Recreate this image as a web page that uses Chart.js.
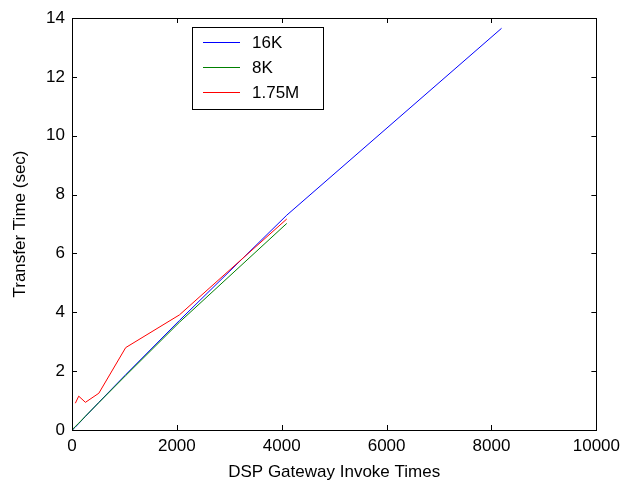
<!DOCTYPE html>
<html lang="en">
<head>
<meta charset="utf-8">
<title>Transfer Time</title>
<script src="https://cdn.jsdelivr.net/npm/chart.js@4.4.1/dist/chart.umd.min.js"></script>
<style>
  html, body { margin: 0; padding: 0; background: #fff; }
  #contenedor { width: 626px; height: 487px; position: relative; }
</style>
</head>
<body>
<div id="contenedor"><canvas id="grafico"></canvas></div>
<script>
// Valores
const invocaciones16K = [0, 16, 32, 64, 128, 256, 512, 1024, 2048, 4096, 8192];
const tiempos16K = [0, 0.02, 0.05, 0.1, 0.22, 0.46, 0.94, 1.88, 3.72, 7.3, 13.65];

const invocaciones8K = [0, 16, 32, 64, 128, 256, 512, 1024, 2048, 4096];
const tiempos8K = [0, 0.03, 0.06, 0.12, 0.23, 0.47, 0.93, 1.85, 3.66, 7.02];

const invocaciones175M = [64, 128, 256, 512, 1024, 2048, 4096];
const tiempos175M = [0.91, 1.15, 0.94, 1.25, 2.8, 3.91, 7.17];

const ticksX = [0, 2000, 4000, 6000, 8000, 10000];
const ticksY = [0, 2, 4, 6, 8, 10, 12, 14];

const FUENTE = "'Liberation Sans', Arial, sans-serif";

function aPuntos(xs, ys) {
  return xs.map((x, i) => ({ x, y: ys[i] }));
}

// Caja, marcas hacia adentro y leyenda al estilo MATLAB
const pluginMarco = {
  id: "marco",
  afterDatasetsDraw(chart) {
    const { ctx, chartArea: area, scales } = chart;
    const largo = 5;
    ctx.save();
    ctx.strokeStyle = "#000";
    ctx.lineWidth = 1;
    ctx.beginPath();
    scales.x.ticks.forEach((t) => {
      const px = Math.round(scales.x.getPixelForValue(t.value)) + 0.5;
      ctx.moveTo(px, area.bottom); ctx.lineTo(px, area.bottom - largo);
      ctx.moveTo(px, area.top); ctx.lineTo(px, area.top + largo);
    });
    scales.y.ticks.forEach((t) => {
      const py = Math.round(scales.y.getPixelForValue(t.value)) + 0.5;
      ctx.moveTo(area.left, py); ctx.lineTo(area.left + largo, py);
      ctx.moveTo(area.right, py); ctx.lineTo(area.right - largo, py);
    });
    ctx.stroke();
    ctx.strokeRect(Math.round(area.left) + 0.5, Math.round(area.top) + 0.5,
      Math.round(area.right - area.left), Math.round(area.bottom - area.top));

    // leyenda
    const caja = { x: 192.5, y: 27.5, w: 131, h: 82 };
    ctx.fillStyle = "#fff";
    ctx.fillRect(caja.x, caja.y, caja.w, caja.h);
    ctx.strokeRect(caja.x, caja.y, caja.w, caja.h);
    ctx.font = `17px ${FUENTE}`;
    ctx.textBaseline = "middle";
    ctx.textAlign = "left";
    chart.data.datasets.forEach((ds, i) => {
      const y = 42.5 + i * 25;
      ctx.strokeStyle = ds.borderColor;
      ctx.beginPath();
      ctx.moveTo(203, y); ctx.lineTo(240, y);
      ctx.stroke();
      ctx.fillStyle = "#000";
      ctx.fillText(ds.label, 252, y + 1);
    });
    ctx.restore();
  },
};

const serie = (label, color, datos, orden) => ({
  label,
  data: datos,
  borderColor: color,
  backgroundColor: color,
  borderWidth: 1,
  pointRadius: 0,
  tension: 0,
  order: orden,
});

new Chart(document.querySelector("#grafico"), {
  type: "line",
  data: {
    datasets: [
      serie("16K", "#0000ff", aPuntos(invocaciones16K, tiempos16K), 2),
      serie("8K", "#008000", aPuntos(invocaciones8K, tiempos8K), 1),
      serie("1.75M", "#ff0000", aPuntos(invocaciones175M, tiempos175M), 0),
    ],
  },
  options: {
    responsive: true,
    maintainAspectRatio: false,
    animation: false,
    layout: { padding: { top: 18, right: 29, left: 6, bottom: 0 } },
    plugins: { legend: { display: false }, tooltip: { enabled: false } },
    scales: {
      x: {
        type: "linear",
        min: 0,
        max: 10000,
        afterBuildTicks: (eje) => { eje.ticks = ticksX.map((v) => ({ value: v })); },
        afterFit: (eje) => { eje.height = 57; },
        grid: { display: false, drawTicks: false },
        border: { display: false },
        ticks: { color: "#000", padding: 6, maxRotation: 0, callback: (v) => String(v), font: { family: FUENTE, size: 17 } },
        title: { display: true, text: "DSP Gateway Invoke Times", color: "#000", padding: { top: 4 }, font: { family: FUENTE, size: 17 } },
      },
      y: {
        min: 0,
        max: 14,
        afterBuildTicks: (eje) => { eje.ticks = ticksY.map((v) => ({ value: v })); },
        afterFit: (eje) => { eje.width = 66; },
        grid: { display: false, drawTicks: false },
        border: { display: false },
        ticks: { color: "#000", padding: 7, callback: (v) => String(v), font: { family: FUENTE, size: 17 } },
        title: { display: true, text: "Transfer Time (sec)", color: "#000", padding: { bottom: 6 }, font: { family: FUENTE, size: 17 } },
      },
    },
  },
  plugins: [pluginMarco],
});
</script>
</body>
</html>
